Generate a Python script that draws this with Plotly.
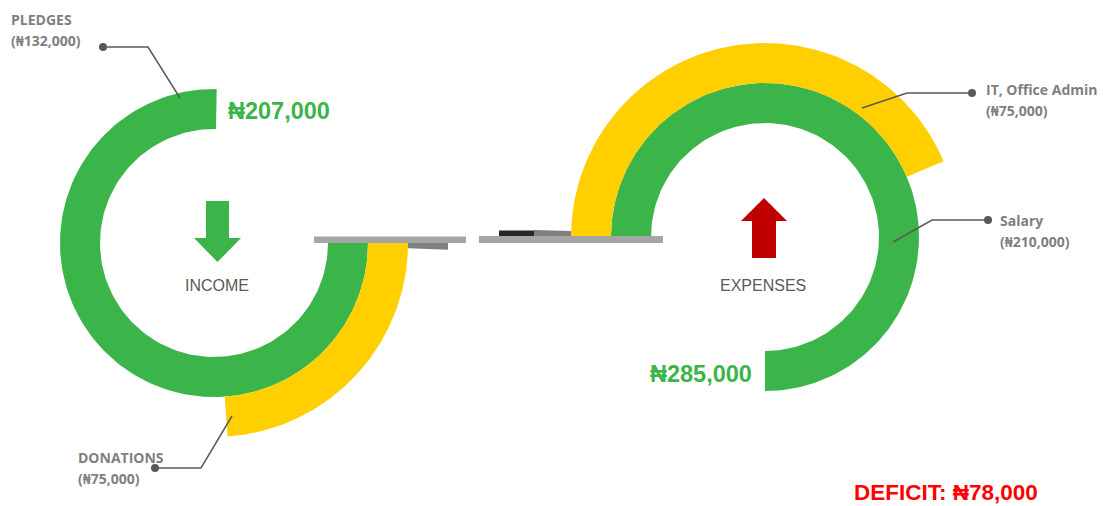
import numpy as np
import plotly.graph_objects as go

# ---------------- data ----------------
income_labels = ["PLEDGES", "DONATIONS"]
income_values = [132000, 75000]
expense_labels = ["Salary", "IT, Office Admin"]
expense_values = [210000, 75000]
center_titles = ["INCOME", "EXPENSES"]

income_total = sum(income_values)
expense_total = sum(expense_values)
deficit = expense_total - income_total

def naira(v):
    return "\u20a6{:,}".format(v)

# ---------------- style / geometry ----------------
W, H = 1103, 506
GREEN = "#3BB54A"
YELLOW = "#FFCF00"
LABEL_GRAY = "#7F7F7F"
LINE_GRAY = "#595959"
NARROW = "Liberation Sans Narrow, Arial Narrow, Liberation Sans, Arial, sans-serif"
LABEL_FONT = "Open Sans, Noto Sans, sans-serif"

# ring geometry: (cx, cy, r_in, r_out, a_start, a_end) in degrees (math convention)
income_rings = [
    (214, 243, 114, 154, 89, 360),    # pledges (green)
    (214, 243, 154, 194, 274, 360),   # donations (yellow)
]
expense_rings = [
    (765, 237, 114, 154, 180, -90),   # salary (green)
    (765, 237, 154, 194, 180, 23),    # IT, office admin (yellow)
]
ring_colors = [GREEN, YELLOW]


def arc(cx, cy, r0, r1, a0, a1, n=160):
    t = np.radians(np.linspace(a0, a1, n))
    xo = cx + r1 * np.cos(t)
    yo = cy - r1 * np.sin(t)
    xi = cx + r0 * np.cos(t[::-1])
    yi = cy - r0 * np.sin(t[::-1])
    x = np.concatenate([xo, xi, xo[:1]])
    y = np.concatenate([yo, yi, yo[:1]])
    return x, y


fig = go.Figure()

for rings in (income_rings, expense_rings):
    for g, col in zip(rings, ring_colors):
        x, y = arc(*g)
        fig.add_trace(go.Scatter(x=x, y=y, mode="lines", fill="toself",
                                 fillcolor=col, line=dict(width=0, color=col),
                                 hoverinfo="skip", showlegend=False))

# arrows
def down_arrow(cx, top, head_y, tip, shaft_hw, head_hw):
    xs = [cx - shaft_hw, cx + shaft_hw, cx + shaft_hw, cx + head_hw, cx, cx - head_hw, cx - shaft_hw, cx - shaft_hw]
    ys = [top, top, head_y, head_y, tip, head_y, head_y, top]
    return xs, ys

ax, ay = down_arrow(217.5, 201, 238, 262, 11.5, 23.5)
fig.add_trace(go.Scatter(x=ax, y=ay, mode="lines", fill="toself", fillcolor=GREEN,
                         line=dict(width=0, color=GREEN), hoverinfo="skip", showlegend=False))
ax, ay = down_arrow(764, 258, 221, 198, 12, 23)
fig.add_trace(go.Scatter(x=ax, y=ay, mode="lines", fill="toself", fillcolor="#C00000",
                         line=dict(width=0, color="#C00000"), hoverinfo="skip", showlegend=False))

# connector bars
shapes = [
    dict(type="rect", x0=314, x1=466, y0=236.5, y1=243, fillcolor="#A5A5A5", line_width=0),
    dict(type="path", path="M 408 243 L 448 243 L 448 249.7 L 408 248.3 Z", fillcolor="#7F7F7F", line_width=0),
    dict(type="rect", x0=479, x1=663, y0=236, y1=243, fillcolor="#A5A5A5", line_width=0),
    dict(type="rect", x0=499, x1=534, y0=230.5, y1=236, fillcolor="#262626", line_width=0),
    dict(type="path", path="M 534 230 L 571 231 L 571 236 L 534 236 Z", fillcolor="#7F7F7F", line_width=0),
]
for s in shapes:
    s.update(xref="x", yref="y", layer="above")

# leader lines: (dot, elbow, arc point)
leaders = [
    [(103, 47), (148, 47), (180, 98)],     # pledges
    [(155, 468), (201, 468), (232, 416)],  # donations
    [(988, 220), (932, 220), (893, 242)],  # salary
    [(972, 93), (907, 93), (862, 108)],    # IT
]
for pts in leaders:
    xs = [p[0] for p in pts]
    ys = [p[1] for p in pts]
    fig.add_trace(go.Scatter(x=xs, y=ys, mode="lines", line=dict(color=LINE_GRAY, width=1.5),
                             hoverinfo="skip", showlegend=False))
    fig.add_trace(go.Scatter(x=[xs[0]], y=[ys[0]], mode="markers",
                             marker=dict(color=LINE_GRAY, size=8), hoverinfo="skip", showlegend=False))

ann = []
def label(x, y, text, size, color, family, xanchor="left", bold=False):
    ann.append(dict(x=x, y=y, xref="x", yref="y", text=("<b>%s</b>" % text) if bold else text,
                    showarrow=False, xanchor=xanchor, yanchor="middle",
                    font=dict(size=size, color=color, family=family)))

LS = 14
# category labels
label(9, 19, income_labels[0], LS, LABEL_GRAY, LABEL_FONT, bold=True)
label(9, 40, "(" + naira(income_values[0]) + ")", LS, LABEL_GRAY, LABEL_FONT, bold=True)
label(76, 457, income_labels[1], LS, LABEL_GRAY, LABEL_FONT, bold=True)
label(76, 478, "(" + naira(income_values[1]) + ")", LS, LABEL_GRAY, LABEL_FONT, bold=True)
label(998, 220, expense_labels[0], LS, LABEL_GRAY, LABEL_FONT, bold=True)
label(998, 241, "(" + naira(expense_values[0]) + ")", LS, LABEL_GRAY, LABEL_FONT, bold=True)
label(984, 89, expense_labels[1], LS, LABEL_GRAY, LABEL_FONT, bold=True)
label(984, 110, "(" + naira(expense_values[1]) + ")", LS, LABEL_GRAY, LABEL_FONT, bold=True)

# totals
label(226, 111, naira(income_total), 23.5, GREEN, NARROW, bold=True)
label(754, 374, naira(expense_total), 23.5, GREEN, NARROW, xanchor="right", bold=True)
label(1040, 492, "DEFICIT: " + naira(deficit), 22.5, "#FF0000", NARROW, xanchor="right", bold=True)

# centre titles
label(217, 285, center_titles[0], 16, "#595959", NARROW, xanchor="center")
label(763, 285, center_titles[1], 16, "#595959", NARROW, xanchor="center")

fig.update_layout(
    width=W, height=H,
    margin=dict(l=0, r=0, t=0, b=0),
    paper_bgcolor="white", plot_bgcolor="white",
    xaxis=dict(range=[0, W], visible=False, fixedrange=True),
    yaxis=dict(range=[H, 0], visible=False, fixedrange=True),
    shapes=shapes, annotations=ann, showlegend=False,
)
fig.write_html("out.html", config={"displayModeBar": False})
